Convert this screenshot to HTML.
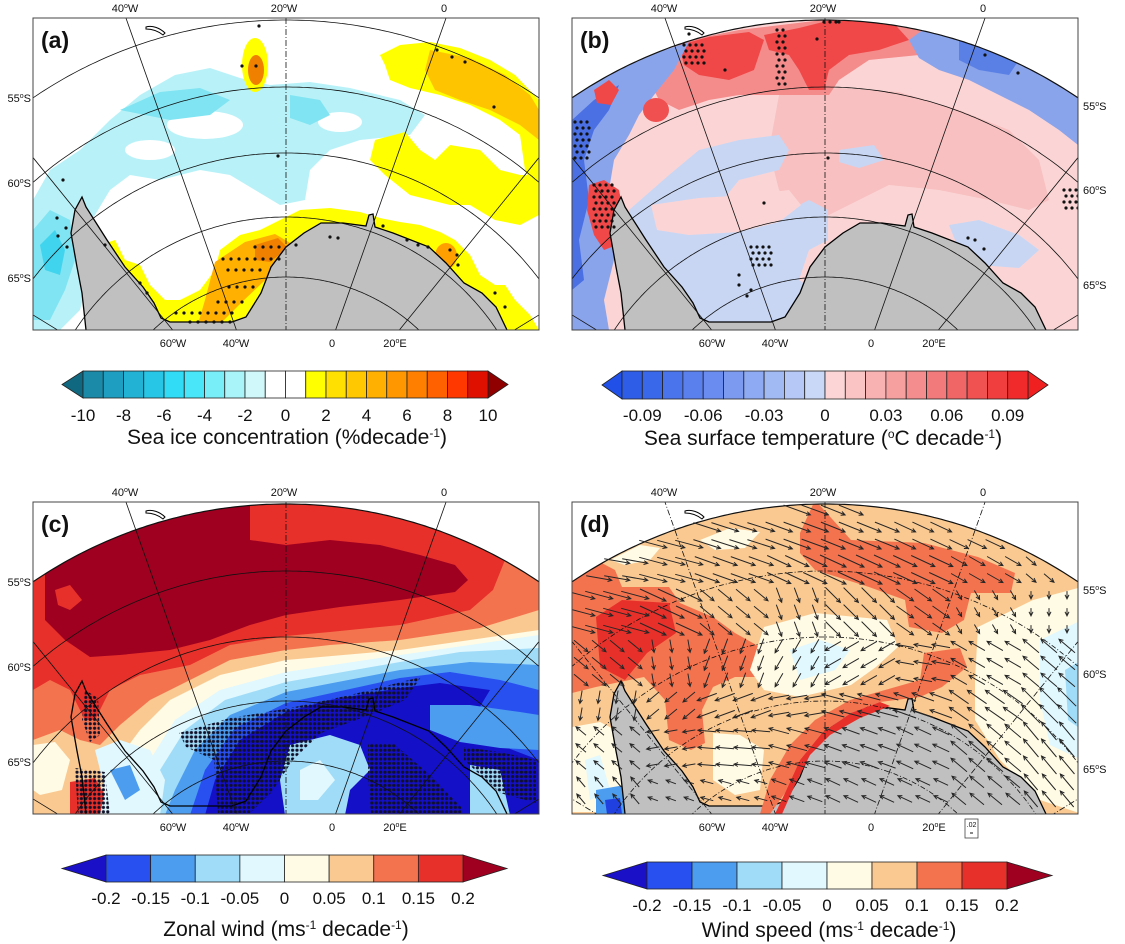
<!DOCTYPE html>
<html><head><meta charset="utf-8">
<style>
html,body{margin:0;padding:0;background:#fff;overflow:hidden;width:1125px;height:944px;}
svg{display:block;font-family:"Liberation Sans",Arial,sans-serif;}
</style></head>
<body>
<svg id="fig" xmlns="http://www.w3.org/2000/svg" width="1125" height="944" viewBox="0 0 1125 944">
<defs>
  <clipPath id="frameClip"><rect x="33" y="18" width="506" height="312"/></clipPath>
  <clipPath id="arcClip"><circle cx="286" cy="470" r="450"/></clipPath>
  <pattern id="stip" width="4.4" height="4.4" patternUnits="userSpaceOnUse">
    <circle cx="2.2" cy="2.2" r="1.6" fill="#101028"/>
  </pattern>
</defs>
<rect x="0" y="0" width="1125" height="944" fill="#fff"/>

<!-- PANEL A -->
<g id="pA">
  <g clip-path="url(#frameClip)">
    <rect x="33" y="18" width="506" height="312" fill="#fff"/>
    <g id="pA-data">
      <polygon fill="#b8f2f8" points="33,200 50,170 80,150 110,120 140,95 175,75 210,68 240,78 270,85 310,82 350,88 400,100 425,115 410,135 360,140 330,150 310,170 305,200 280,205 255,190 230,175 200,170 160,180 130,175 110,190 95,215 80,240 88,280 80,310 60,330 33,330"/>
      <ellipse fill="#fff" cx="205" cy="125" rx="38" ry="14"/>
      <ellipse fill="#fff" cx="340" cy="122" rx="22" ry="10"/>
      <ellipse fill="#fff" cx="150" cy="150" rx="25" ry="10"/>
      <polygon fill="#80e4f2" points="120,110 160,92 200,88 230,100 210,115 170,120"/>
      <polygon fill="#80e4f2" points="290,95 320,100 330,115 310,125 290,118"/>
      <polygon fill="#80e4f2" points="33,230 50,210 70,220 75,260 65,290 50,320 33,320"/>
      <polygon fill="#40d4ee" points="40,245 55,230 65,250 60,275 45,270"/>
      <polygon fill="#ffff00" points="380,55 400,45 430,42 460,48 490,60 515,75 539,100 539,200 525,170 520,135 500,120 470,105 440,95 410,88 390,80 385,65"/>
      <polygon fill="#ffc400" points="430,50 470,58 505,75 530,95 539,110 539,140 520,125 490,110 460,100 435,90 425,70"/>
      <polygon fill="#ffff00" points="375,140 405,132 420,150 435,160 450,145 480,150 500,170 520,175 539,175 539,215 520,225 495,220 470,205 450,205 430,200 410,195 385,175 370,160"/>
      <polygon fill="#ffff00" points="100,245 115,240 125,260 140,265 150,285 165,300 180,300 200,290 215,270 220,250 240,235 260,230 280,220 300,210 330,208 360,212 380,218 400,222 420,225 440,232 455,240 470,255 480,275 495,285 505,285 515,300 530,315 539,330 150,330 120,300 110,275"/>
      <polygon fill="#ffb000" points="215,262 245,242 275,234 292,244 282,266 262,283 242,302 222,322 198,324 205,300"/>
      <polygon fill="#f08000" points="255,245 278,238 288,248 270,262 255,260"/>
      <ellipse fill="#ffa000" cx="446" cy="256" rx="11" ry="13"/>
      <ellipse fill="#ffff00" cx="255" cy="65" rx="13" ry="27"/>
      <ellipse fill="#f08000" cx="256" cy="70" rx="8" ry="15"/>
    </g>
    <g id="pA-land"></g>
    <g id="pA-grid"></g>
    <g id="pA-dots"></g>
  </g>
</g>

<!-- PANEL B -->
<g id="pB" transform="translate(539,0)">
  <g clip-path="url(#frameClip)">
    <rect x="33" y="18" width="506" height="312" fill="#fff"/>
    <g clip-path="url(#arcClip)">
      <g>
        <rect x="33" y="18" width="506" height="312" fill="#fbd5d5"/>
        <polygon fill="#f8c0c0" points="240,95 300,88 360,92 420,110 470,130 500,160 510,200 490,210 450,200 400,190 350,185 320,200 290,215 260,210 240,190 230,150"/>
        <polygon fill="#c8d6f4" points="90,210 130,175 160,150 200,140 240,135 250,150 240,170 200,180 180,205 160,215 130,225 160,230 200,225 240,215 270,200 289,210 289,240 270,250 260,280 289,300 289,330 90,330"/>
        <polygon fill="#fbd5d5" points="112,205 160,198 210,195 250,190 262,205 240,222 200,232 150,235 118,230"/>
        <polygon fill="#c8d6f4" points="410,225 440,220 480,235 500,250 480,268 440,265 420,250"/>
        <polygon fill="#c8d6f4" points="300,150 335,145 345,160 320,168 300,162"/>
        <polygon fill="#f48c8c" points="110,80 120,55 150,40 200,30 250,24 300,18 370,18 390,35 380,55 330,60 300,80 290,95 250,95 200,95 170,100 140,110 120,100"/>
        <polygon fill="#f04848" points="225,35 260,28 300,18 350,18 370,40 340,50 310,55 290,70 285,90 270,90 260,70 250,55 230,50"/>
        <polygon fill="#f04848" points="140,45 170,37 210,32 225,40 215,70 190,80 160,75 145,65"/>
        <polygon fill="#8aa4ec" points="33,90 60,80 90,65 120,52 150,42 135,70 115,95 100,115 90,135 75,160 70,190 80,230 75,260 65,300 70,330 33,330"/>
        <polygon fill="#4a70e4" points="33,120 55,100 80,85 70,110 55,130 45,160 50,200 40,240 45,280 33,290"/>
        <polygon fill="#f04848" points="50,185 65,180 80,190 85,215 78,245 65,250 55,235 48,210"/>
        <polygon fill="#f04848" points="55,90 70,80 80,90 72,105 58,103"/>
        <ellipse fill="#f05050" cx="117" cy="110" rx="13" ry="12"/>
        <polygon fill="#8aa4ec" points="400,18 430,30 470,48 500,65 525,80 539,90 539,145 520,130 490,110 460,95 430,80 400,70 380,58 370,40"/>
        <polygon fill="#5a80e6" points="420,38 450,48 480,60 470,75 440,70 420,60"/>
      </g>
    </g>
    <g id="pB-land"></g>
    <g id="pB-grid"></g>
    <g id="pB-dots"></g>
  </g>
</g>

<!-- PANEL C -->
<g id="pC" transform="translate(0,484)">
  <g clip-path="url(#frameClip)">
    <rect x="33" y="18" width="506" height="312" fill="#fff"/>
    <g clip-path="url(#arcClip)">
      <g transform="translate(0,-484)">
        <rect x="33" y="500" width="506" height="316" fill="#fffbe5"/>
        <polygon fill="#fac991" points="33,480 539,480 539,630 470,640 400,650 286,660 220,675 170,700 140,730 110,770 95,800 80,815 33,815"/>
        <polygon fill="#f4734f" points="33,480 539,480 539,610 480,628 400,640 330,645 286,650 230,660 190,680 150,700 120,725 100,745 80,740 60,730 33,740"/>
        <polygon fill="#e8302a" points="33,480 500,480 505,560 493,590 470,610 400,625 330,632 286,636 230,645 190,665 140,675 110,690 95,720 85,720 70,690 50,680 33,690"/>
        <polygon fill="#a00020" points="45,620 45,480 250,480 250,540 286,545 330,540 380,545 420,555 455,565 468,580 455,592 400,600 340,607 286,615 250,625 210,640 170,650 120,655 90,657 65,640"/>
        <polygon fill="#e8302a" points="55,590 70,585 82,600 70,610 58,605"/>
        <polygon fill="#fffbe5" points="33,745 55,742 70,760 62,790 40,795 33,790"/>
        <polygon fill="#e8302a" points="70,782 95,778 105,795 100,815 70,815"/>
        <polygon fill="#e0f8fe" points="539,635 470,645 400,655 286,672 220,690 175,720 150,760 130,800 120,815 539,815"/>
        <polygon fill="#a0dcf8" points="539,648 460,652 400,662 286,682 225,700 185,730 160,770 145,815 539,815"/>
        <polygon fill="#4c9cf0" points="539,665 470,662 400,670 286,692 230,715 195,750 175,790 165,815 539,815"/>
        <polygon fill="#2850f0" points="539,690 500,680 450,672 400,678 286,703 235,728 205,770 190,815 539,815"/>
        <polygon fill="#1410c8" points="490,690 440,683 400,688 330,700 286,712 240,740 215,780 205,815 539,815 539,760 500,745 460,740"/>
        <polygon fill="#4c9cf0" points="430,705 470,705 520,712 539,715 539,750 500,748 460,742 430,730"/>
        <polygon fill="#a0dcf8" points="290,745 330,735 360,745 370,770 350,790 345,815 285,815 280,780"/>
        <polygon fill="#e0f8fe" points="300,770 320,760 335,780 318,800 300,800"/>
        <polygon fill="#a0dcf8" points="470,765 500,770 510,815 470,815"/>
        <polygon fill="#e0f8fe" points="95,750 120,740 150,750 165,780 160,815 100,815 105,790"/>
        <polygon fill="#4c9cf0" points="110,770 130,765 140,790 125,800"/>
        <g fill="url(#stip)">
          <polygon points="179,733 230,718 290,708 350,695 421,677 405,700 375,713 321,733 293,760 271,793 250,813 218,813 214,760 186,747"/>
          <polygon points="368,743 393,743 430,775 461,807 461,813 371,813 368,777"/>
          <polygon points="464,747 500,752 536,760 536,803 500,793 464,760"/>
          <polygon points="85,690 98,698 100,735 90,742 82,720"/>
          <polygon points="75,768 105,772 110,815 78,815"/>
        </g>
      </g>
    </g>
    <g id="pC-land"></g>
    <g id="pC-grid"></g>
  </g>
</g>

<!-- PANEL D -->
<g id="pD" transform="translate(539,484)">
  <g clip-path="url(#frameClip)">
    <rect x="33" y="18" width="506" height="312" fill="#fff"/>
    <g clip-path="url(#arcClip)">
      <g transform="translate(-539,-484)">
        <rect x="572" y="500" width="510" height="316" fill="#fac991"/>
        <polygon fill="#f4734f" points="575,577 596,560 615,570 622,587 669,587 680,603 713,617 735,633 760,647 764,677 735,677 713,687 702,710 705,743 691,750 669,740 665,700 644,677 596,687 572,693 572,577"/>
        <polygon fill="#e8302a" points="596,617 622,600 669,603 676,633 647,653 625,680 600,667"/>
        <polygon fill="#f4734f" points="800,533 815,500 851,540 924,543 978,557 1015,573 1011,593 971,593 964,620 942,633 909,627 905,600 869,587 815,570 800,553"/>
        <polygon fill="#fffbe5" points="764,627 815,613 887,620 898,647 876,667 851,685 800,697 764,690 750,670"/>
        <polygon fill="#e0f8fe" points="790,650 820,640 850,650 835,670 800,680"/>
        <polygon fill="#fffbe5" points="978,627 1033,600 1082,587 1082,814 1040,800 1000,760 975,720 975,680"/>
        <polygon fill="#e0f8fe" points="1040,640 1082,620 1082,760 1050,745 1040,700"/>
        <polygon fill="#a0dcf8" points="1065,670 1082,660 1082,730 1068,720"/>
        <polygon fill="#fffbe5" points="610,560 640,545 660,548 650,560 625,565"/>
        <polygon fill="#fffbe5" points="700,540 730,528 760,532 745,548 715,550"/>
        <polygon fill="#fffbe5" points="713,733 740,735 764,750 760,790 735,795 713,780"/>
        <polygon fill="#fffbe5" points="572,727 600,722 625,735 633,812 572,812"/>
        <polygon fill="#e0f8fe" points="585,760 600,755 610,790 590,800"/>
        <polygon fill="#4c9cf0" points="596,790 625,785 633,814 596,814"/>
        <polygon fill="#2040e0" points="605,800 620,798 622,814 607,814"/>
      </g>
    </g>
    <g id="pD-land"></g>
    <g transform="translate(-539,-484)">
      <polygon fill="#f4734f" points="924,653 960,648 967,667 942,687 920,697 880,702 851,713 822,733 800,760 785,793 770,814 760,814 770,780 790,745 815,720 850,700 885,690 920,680"/>
      <polygon fill="#e8302a" points="880,702 851,713 822,733 800,760 785,793 775,814 782,814 795,785 810,755 830,735 860,718 890,706"/>
    </g>
    <g id="pD-grid"></g>
    <g id="pD-arrows"></g>
  </g>
</g>

<g id="labels"></g>
<g id="colorbars"></g>
</svg>

<script>
// ---------- colorbar data ----------
const cbA_colors = ['#1a8aa8','#1e9ec0','#22b2d4','#28c6e6','#30dcf6','#48e6f8','#78eef8','#a8f4f8','#d0f8fa','#ffffff','#ffffff','#ffff00','#ffe000','#ffc800','#ffb000','#ff9800','#ff8000','#ff6000','#ff3800','#e01000'];
const cbA_ends = ['#106880','#900000'];
const cbA_ticks = [-10,-8,-6,-4,-2,0,2,4,6,8,10];
const cbA_tickLabels = ['-10','-8','-6','-4','-2','0','2','4','6','8','10'];
const cbA_range = [-10,10];

const cbB_colors = ['#2e5ee8','#3a68ea','#4a74ec','#5a80ee','#6a8cf0','#7c9af0','#8eaaf2','#a2baf4','#b6c8f6','#cad8f8','#fcd6d6','#fac4c4','#f8b2b2','#f6a0a0','#f48e8e','#f27a7a','#f06666','#f05252','#f03e3e','#f02a2a'];
const cbB_ends = ['#2050e8','#f02020'];
const cbB_ticks = [-0.09,-0.06,-0.03,0,0.03,0.06,0.09];
const cbB_tickLabels = ['-0.09','-0.06','-0.03','0','0.03','0.06','0.09'];
const cbB_range = [-0.1,0.1];

const cbC_colors = ['#2850f0','#4c9cf0','#a0dcf8','#e0f8fe','#fffbe5','#fac991','#f4734f','#e8302a'];
const cbC_ends = ['#1a10c8','#a00020'];
const cbC_ticks = [-0.2,-0.15,-0.1,-0.05,0,0.05,0.1,0.15,0.2];
const cbC_tickLabels = ['-0.2','-0.15','-0.1','-0.05','0','0.05','0.1','0.15','0.2'];
const cbC_range = [-0.2,0.2];

const cbD_colors = ['#2850f0','#4c9cf0','#a0dcf8','#e0f8fe','#fffbe5','#fac991','#f4734f','#e8302a'];
const cbD_ends = ['#1a10c8','#a00020'];
const cbD_ticks = [-0.2,-0.15,-0.1,-0.05,0,0.05,0.1,0.15,0.2];
const cbD_tickLabels = ['-0.2','-0.15','-0.1','-0.05','0','0.05','0.1','0.15','0.2'];
const cbD_range = [-0.2,0.2];

// ---------- wind trend vectors (panel d), coarse 7 rows x 8 cols ----------
const windAngleRow0 = [15,15,18,20,22,25,25,30];
const windAngleRow1 = [10,15,20,25,25,25,30,40];
const windAngleRow2 = [15,25,40,70,45,35,60,90];
const windAngleRow3 = [40,80,110,120,150,190,210,220];
const windAngleRow4 = [100,140,160,170,195,200,215,225];
const windAngleRow5 = [220,170,185,195,200,205,220,230];
const windAngleRow6 = [230,200,195,200,205,205,220,230];
const windLenRow0 = [20,22,22,22,20,18,16,14];
const windLenRow1 = [20,22,20,20,22,20,14,10];
const windLenRow2 = [22,22,14,12,16,16,8,6];
const windLenRow3 = [14,10,12,12,14,14,14,16];
const windLenRow4 = [10,12,16,16,18,18,18,20];
const windLenRow5 = [10,10,14,16,14,14,16,18];
const windLenRow6 = [10,8,10,12,12,12,14,16];

// ---------- significance dots ----------
const dotsA = [[242,66],[256,66],[259,26],[437,50],[452,57],[465,62],[494,107],[278,156],[63,180],[57,218],[58,236],[66,228],[67,247],[105,245],[140,283],[147,293],[330,237],[338,238],[296,245],[383,226],[407,240],[418,245],[428,247],[450,250],[457,255],[458,265],[495,293],[505,307]];
const dotRowsA = [[247,255,285],[259,223,282],[270,228,262],[287,229,254],[302,218,248],[313,176,232],[322,190,230]];
const dotsB = [[186,70],[278,39],[289,158],[225,203],[212,290],[200,275],[200,285],[208,296],[446,55],[479,73],[429,238],[436,240],[445,249],[150,34],[300,22]];
const dotClustersB = [[55,185,4,8],[36,122,3,7],[145,45,4,4],[238,30,2,10],[285,22,3,1],[212,247,4,4],[525,190,3,4]];

const NS = 'http://www.w3.org/2000/svg';
function mk(tag, attrs, parent){
  const e = document.createElementNS(NS, tag);
  for (const k in attrs) e.setAttribute(k, attrs[k]);
  if (parent) parent.appendChild(e);
  return e;
}
const PX = 286, PY = 470;
const COAST = "86,330 82,293 77,267 71,233 75,210 82,197 86,207 107,240 125,267 143,287 154,303 161,318 170,322 232,322 246,317 261,293 271,267 286,247 304,233 321,223 343,223 366,226 369,215 373,214 375,227 393,233 429,247 446,263 464,283 482,293 496,307 507,330";

function drawLand(id, fill){
  const g = document.getElementById(id);
  if (fill) {
    const p = mk('polygon', {points: COAST + ' 507,332 86,332', fill: '#c0c0c0'}, g);
    
    
  }
  const c = mk('polyline', {points: COAST, fill: 'none', stroke: '#000', 'stroke-width': 1.3}, g);
  
  
  const isl = mk('path', {d: 'M146,27 C152,25 160,28 165,33 L163,35 C158,31 152,29 146,29 Z', fill: 'none', stroke: '#000', 'stroke-width': 1}, g);
  
  
}
function drawGrid(id, dashed, border){
  const g = document.getElementById(id);
  const radii = [450,383,317,253,193];
  radii.forEach((r,i) => {
    const pts = [];
    for (let t = -90; t <= 90; t += 0.5) {
      const a = t * Math.PI / 180;
      const x = PX + r*Math.sin(a), y = PY - r*Math.cos(a);
      if (x >= 31 && x <= 541 && y <= 333) pts.push(x.toFixed(1) + ',' + y.toFixed(1));
    }
    if (pts.length < 2) return;
    const c = mk('polyline', {points: pts.join(' '), fill: 'none', stroke: '#111', 'stroke-width': (border && i===0) ? 1.2 : 0.8}, g);
    if (dashed && !(border && i===0)) c.setAttribute('stroke-dasharray', '5,2,1,2');
    
    
  });
  const angs = [-58.5,-39,-19.5,0,19.5,39,58.5];
  angs.forEach(a => {
    const t = a * Math.PI / 180;
    const tn = Math.tan(t);
    // segment from y=332 (frame bottom) up to y=16 (frame top)
    let y1 = 332, y2 = 16;
    let x1 = PX + tn*(PY - y1), x2 = PX + tn*(PY - y2);
    const clampX = (xa, ya, xb, yb, xl) => ya + (yb - ya) * (xl - xa) / (xb - xa);
    if (x1 < 31) { y1 = clampX(x1, y1, x2, y2, 31); x1 = 31; }
    if (x1 > 541) { y1 = clampX(x1, y1, x2, y2, 541); x1 = 541; }
    if (x2 < 31) { y2 = clampX(x1, y1, x2, y2, 31); x2 = 31; }
    if (x2 > 541) { y2 = clampX(x1, y1, x2, y2, 541); x2 = 541; }
    if (y1 < y2) return;
    const l = mk('line', {x1: x1, y1: y1, x2: x2, y2: y2, stroke: '#111', 'stroke-width': 0.8}, g);
    if (dashed || a === 0) l.setAttribute('stroke-dasharray', '6,2,1,2');
    
    
  });
}
function dot(g, x, y){
  const c = mk('circle', {cx: x, cy: y, r: 1.6, fill: '#111'}, g);
  
  
}

drawLand('pA-land', true);
drawGrid('pA-grid', false, false);
(function(){
  const g = document.getElementById('pA-dots');
  dotsA.forEach(d => dot(g, d[0], d[1]));
  dotRowsA.forEach(r => { for (let x = r[1]; x <= r[2]; x += 8) dot(g, x, r[0]); });
})();
drawLand('pB-land', true);
drawGrid('pB-grid', false, true);
(function(){
  const g = document.getElementById('pB-dots');
  dotsB.forEach(d => dot(g, d[0], d[1]));
  dotClustersB.forEach(c => {
    for (let i = 0; i < c[2]; i++) for (let j = 0; j < c[3]; j++) dot(g, c[0] + i*6 + (j%2)*2, c[1] + j*6);
  });
})();
drawLand('pC-land', false);
drawGrid('pC-grid', false, true);
drawLand('pD-land', true);
drawGrid('pD-grid', true, true);
(function(){
  const g = document.getElementById('pD-arrows');
  const angRows = [windAngleRow0,windAngleRow1,windAngleRow2,windAngleRow3,windAngleRow4,windAngleRow5,windAngleRow6];
  const lenRows = [windLenRow0,windLenRow1,windLenRow2,windLenRow3,windLenRow4,windLenRow5,windLenRow6];
  const cw = 506/8, rh = 312/7;
  for (let y = 26; y < 326; y += 17) {
    for (let x = 42; x < 535; x += 18) {
      const dx = x - PX, dy = y - PY;
      if (dx*dx + dy*dy > 445*445) continue;
      const col = Math.min(7, Math.floor((x - 33) / cw));
      const row = Math.min(6, Math.floor((y - 18) / rh));
      const a = angRows[row][col] * Math.PI / 180, L = lenRows[row][col] * 1.3;
      const ux = Math.cos(a), uy = Math.sin(a);
      const x1 = x - ux*L/2, y1 = y - uy*L/2, x2 = x + ux*L/2, y2 = y + uy*L/2;
      const h = 4.5, s = 0.45;
      const hx1 = x2 - h*(ux*Math.cos(s) - uy*Math.sin(s)), hy1 = y2 - h*(uy*Math.cos(s) + ux*Math.sin(s));
      const hx2 = x2 - h*(ux*Math.cos(-s) - uy*Math.sin(-s)), hy2 = y2 - h*(uy*Math.cos(-s) + ux*Math.sin(-s));
      const p = mk('path', {d: `M${x1.toFixed(1)},${y1.toFixed(1)}L${x2.toFixed(1)},${y2.toFixed(1)}M${hx1.toFixed(1)},${hy1.toFixed(1)}L${x2.toFixed(1)},${y2.toFixed(1)}L${hx2.toFixed(1)},${hy2.toFixed(1)}`, fill: 'none', stroke: '#262626', 'stroke-width': 1}, g);
      
      
    }
  }
})();

const LG = document.getElementById('labels');
function txt(x, y, s, opts){
  const t = mk('text', {x: x, y: y, 'font-size': opts.size || 11, 'text-anchor': opts.anchor || 'middle', fill: '#111', 'font-weight': opts.bold ? 'bold' : 'normal'}, LG);
  const parts = s.split('°');
  t.appendChild(document.createTextNode(parts[0]));
  if (parts.length > 1) {
    const sp = mk('tspan', {dy: -4, 'font-size': 7}, t); sp.textContent = 'o';
    const rest = mk('tspan', {dy: 4}, t); rest.textContent = parts[1];
  }
  return t;
}
const panels = [
  {dx:0, dy:0, letter:'(a)', side:'left'},
  {dx:539, dy:0, letter:'(b)', side:'right'},
  {dx:0, dy:484, letter:'(c)', side:'left'},
  {dx:539, dy:484, letter:'(d)', side:'right'}
];
panels.forEach(p => {
  const f = mk('rect', {x: 33 + p.dx, y: 18 + p.dy, width: 506, height: 312, fill: 'none', stroke: '#444', 'stroke-width': 1}, LG);
  
  
  const pl = txt(41 + p.dx, 48 + p.dy, p.letter, {size: 23, bold: true, anchor: 'start'});
  
  
  [['40°W',125],['20°W',284],['0',444]].forEach(l => {
    const t = txt(l[1] + p.dx, 12 + p.dy, l[0], {});
    
    
  });
  [['60°W',173],['40°W',236],['0',332],['20°E',395]].forEach(l => {
    const t = txt(l[1] + p.dx, 347 + p.dy, l[0], {});
    
    
  });
  const ly = p.side === 'left' ? [[102,'55°S'],[187,'60°S'],[282,'65°S']] : [[110,'55°S'],[194,'60°S'],[289,'65°S']];
  ly.forEach(l => {
    const t = p.side === 'left' ? txt(31 + p.dx, l[0] + p.dy, l[1], {anchor: 'end'}) : txt(544 + p.dx, l[0] + p.dy, l[1], {anchor: 'start'});
    
    
  });
});
(function(){
  const r = mk('rect', {x: 965, y: 819, width: 13, height: 19, fill: '#fff', stroke: '#444', 'stroke-width': 0.8}, LG);
  
  
  const t = mk('text', {x: 971.5, y: 827, 'font-size': 7, 'text-anchor': 'middle', fill: '#111'}, LG);
  t.textContent = '.02';
  
  
  const d = mk('line', {x1: 970, y1: 833, x2: 973, y2: 833, stroke: '#111', 'stroke-width': 1}, LG);
  
  
})();

const CB = document.getElementById('colorbars');
function colorbar(cfg){
  const g = mk('g', {}, CB);
  
  
  const n = cfg.colors.length, w = (cfg.x1 - cfg.x0) / n;
  const sx = v => cfg.x0 + (v - cfg.range[0]) / (cfg.range[1] - cfg.range[0]) * (cfg.x1 - cfg.x0);
  const ym = cfg.y + cfg.h/2;
  const lt = mk('polygon', {points: `${cfg.tipL},${ym} ${cfg.x0},${cfg.y} ${cfg.x0},${cfg.y+cfg.h}`, fill: cfg.ends[0], stroke: '#222', 'stroke-width': 0.8}, g);
  
  
  const rt = mk('polygon', {points: `${cfg.tipR},${ym} ${cfg.x1},${cfg.y} ${cfg.x1},${cfg.y+cfg.h}`, fill: cfg.ends[1], stroke: '#222', 'stroke-width': 0.8}, g);
  
  
  cfg.colors.forEach((c, i) => {
    const r = mk('rect', {x: cfg.x0 + i*w, y: cfg.y, width: w, height: cfg.h, fill: c, stroke: '#222', 'stroke-width': 0.8}, g);
    
    
  });
  cfg.ticks.forEach((v, i) => {
    const t = mk('text', {x: sx(v), y: cfg.labelY, 'font-size': 17, 'text-anchor': 'middle', fill: '#111'}, g);
    t.textContent = cfg.labels[i];
    
    
  });
  const title = mk('text', {x: cfg.titleX, y: cfg.titleY, 'font-size': 21, 'text-anchor': 'middle', fill: '#111'}, g);
  
  
  cfg.title.forEach(part => {
    const ts = mk('tspan', part.sup ? {'baseline-shift': 'super', 'font-size': 12} : {}, title);
    ts.textContent = part.t;
  });
}
colorbar({name:'colorbar-sea-ice', colors: cbA_colors, ends: cbA_ends, ticks: cbA_ticks, labels: cbA_tickLabels, range: cbA_range,
  x0: 83, x1: 488, tipL: 62, tipR: 508, y: 371, h: 27, labelY: 421, titleX: 287, titleY: 444,
  title: [{t:'Sea ice concentration (%decade'},{t:'-1', sup:true},{t:')'}]});
colorbar({name:'colorbar-sst', colors: cbB_colors, ends: cbB_ends, ticks: cbB_ticks, labels: cbB_tickLabels, range: cbB_range,
  x0: 622, x1: 1028, tipL: 602, tipR: 1048, y: 371, h: 28, labelY: 421, titleX: 823, titleY: 445,
  title: [{t:'Sea surface temperature ('},{t:'o', sup:true},{t:'C decade'},{t:'-1', sup:true},{t:')'}]});
colorbar({name:'colorbar-zonal-wind', colors: cbC_colors, ends: cbC_ends, ticks: cbC_ticks, labels: cbC_tickLabels, range: cbC_range,
  x0: 106, x1: 463, tipL: 62, tipR: 507, y: 855, h: 27, labelY: 904, titleX: 286, titleY: 936,
  title: [{t:'Zonal wind (ms'},{t:'-1', sup:true},{t:' decade'},{t:'-1', sup:true},{t:')'}]});
colorbar({name:'colorbar-wind-speed', colors: cbD_colors, ends: cbD_ends, ticks: cbD_ticks, labels: cbD_tickLabels, range: cbD_range,
  x0: 647, x1: 1007, tipL: 603, tipR: 1052, y: 862, h: 27, labelY: 911, titleX: 829, titleY: 937,
  title: [{t:'Wind speed (ms'},{t:'-1', sup:true},{t:' decade'},{t:'-1', sup:true},{t:')'}]});
</script>
</body></html>
